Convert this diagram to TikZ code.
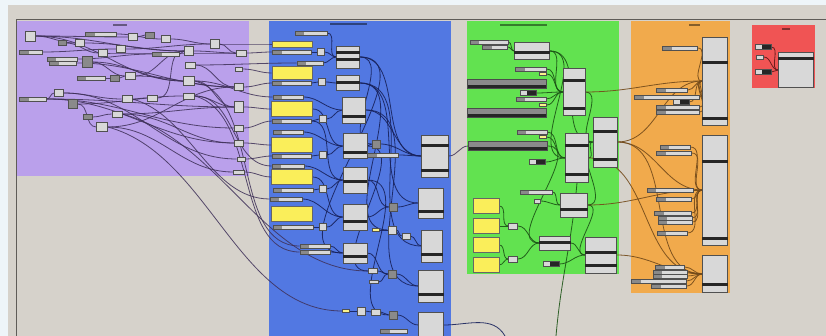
\documentclass[tikz,border=0pt]{standalone}
\usetikzlibrary{calc,positioning}
\definecolor{outer}{RGB}{238,245,249}
\definecolor{canvas}{RGB}{214,210,203}
\definecolor{frame}{RGB}{95,92,88}
\definecolor{grpP}{RGB}{186,160,235}
\definecolor{grpB}{RGB}{82,120,226}
\definecolor{grpG}{RGB}{98,226,80}
\definecolor{grpO}{RGB}{241,170,76}
\definecolor{grpR}{RGB}{240,84,84}
\definecolor{compfill}{RGB}{216,216,216}
\definecolor{compline}{RGB}{80,80,80}
\definecolor{compdark}{RGB}{138,138,138}
\definecolor{panelyel}{RGB}{250,238,90}
\definecolor{wirep}{RGB}{62,48,88}
\definecolor{wireb}{RGB}{24,34,92}
\definecolor{wireg}{RGB}{28,84,22}
\definecolor{wireo}{RGB}{115,74,26}
\definecolor{wirer}{RGB}{110,30,30}
\pgfdeclarelayer{grp}
\pgfdeclarelayer{wires}
\pgfsetlayers{grp,wires,main}

\begin{document}
\begin{tikzpicture}[x=1pt, y=-1pt]
  \tikzset{
    comp/.style={draw=compline, fill=compfill, line width=0.6pt, inner sep=0pt, rectangle},
    box/.style 2 args={comp, minimum width=#1, minimum height=#2},
    dbox/.style 2 args={box={#1}{#2}, fill=compdark},
    sld/.style={comp, minimum width=#1, minimum height=4,
                path picture={\fill[compdark] (path picture bounding box.south west)
                  rectangle ([xshift=9pt]path picture bounding box.north west);}},
    tgl/.style={comp, minimum width=16, minimum height=5,
                path picture={\fill[black!85] ([xshift=7pt]path picture bounding box.south west)
                  rectangle (path picture bounding box.north east);}},
    gbar/.style={draw=black!70, fill=compdark, line width=0.6pt, inner sep=0pt,
                 minimum width=79, minimum height=9,
                 path picture={\fill[black!85] (path picture bounding box.south west)
                   rectangle ([yshift=3pt]path picture bounding box.south east);}},
    panel/.style 2 args={draw=black!60, fill=panelyel, line width=0.6pt, inner sep=0pt,
                         minimum width=#1, minimum height=#2},
    tiny/.style={box={7}{3}, fill=panelyel!70},
    band/.style={fill=black!85},
    wp/.style={draw=wirep, line width=0.8pt, opacity=0.85},
    wb/.style={draw=wireb, line width=0.8pt, opacity=0.9},
    wg/.style={draw=wireg, line width=0.8pt, opacity=0.9},
    wo/.style={draw=wireo, line width=0.8pt, opacity=0.9},
    wr/.style={draw=wirer, line width=0.8pt}
  }
  \useasboundingbox (0,0) rectangle (826,336);

  \begin{pgfonlayer}{grp}
    \fill[outer] (0,0) rectangle (826,336);
    \fill[canvas] (8,5) rectangle (826,336);
    \draw[frame, line width=1pt] (16,336) -- (16,20) -- (826,20);
    \fill[grpP] (17,21) rectangle (249,176);
    \fill[grpB] (269,21) rectangle (451,340);
    \fill[grpG] (467,21) rectangle (619,274);
    \fill[grpO] (631,21) rectangle (730,293);
    \fill[grpR] (752,25) rectangle (815,88);
    \draw[grpP!55!black, line width=1.2pt] (113,25) -- (127,25);
    \draw[grpB!55!black, line width=1.2pt] (330,24) -- (367,24);
    \draw[grpG!55!black, line width=1.2pt] (500,25) -- (547,25);
    \draw[grpO!55!black, line width=1.2pt] (689,25) -- (700,25);
    \draw[grpR!55!black, line width=1.2pt] (782,29) -- (790,29);
  \end{pgfonlayer}

  % purple group
  \node[box={10}{10}] (p1) at (30,36) {};
  \node[sld=31] (p2) at (101,34) {};
  \node[box={9}{7}] (p3) at (133,37) {};
  \node[dbox={9}{6}] (p4) at (150,35) {};
  \node[box={9}{7}] (p5) at (166,39) {};
  \node[dbox={8}{5}] (p6) at (62,43) {};
  \node[box={9}{7}] (p7) at (80,43) {};
  \node[sld=23] (p8) at (31,52) {};
  \node[box={9}{7}] (p9) at (103,53) {};
  \node[box={9}{7}] (p10) at (121,49) {};
  \node[sld=30] (p11) at (62,59) {};
  \node[sld=27] (p12) at (63,63) {};
  \node[dbox={10}{11}] (p13) at (87,62) {};
  \node[sld=27] (p14) at (166,54) {};
  \node[box={9}{9}] (p15) at (189,51) {};
  \node[box={9}{9}] (p16) at (215,44) {};
  \node[box={10}{6}] (p17) at (241,53) {};
  \node[box={10}{6}] (p18) at (190,65) {};
  \node[box={7}{4}] (p19) at (239,69) {};
  \node[sld=28] (p20) at (91,78) {};
  \node[dbox={9}{6}] (p21) at (115,78) {};
  \node[box={10}{7}] (p22) at (130,76) {};
  \node[box={11}{9}] (p23) at (189,81) {};
  \node[box={9}{7}] (p24) at (239,87) {};
  \node[sld=27] (p25) at (33,99) {};
  \node[box={9}{7}] (p26) at (59,93) {};
  \node[dbox={9}{9}] (p27) at (73,104) {};
  \node[box={10}{7}] (p28) at (127,99) {};
  \node[box={10}{6}] (p29) at (152,98) {};
  \node[box={11}{6}] (p30) at (189,96) {};
  \node[box={9}{11}] (p31) at (239,107) {};
  \node[dbox={9}{5}] (p32) at (88,117) {};
  \node[box={10}{6}] (p33) at (117,114) {};
  \node[box={11}{9}] (p34) at (102,127) {};
  \node[box={9}{6}] (p35) at (239,128) {};
  \node[box={9}{6}] (p36) at (239,143) {};
  \node[box={8}{4}] (p37) at (241,159) {};
  \node[box={11}{4}] (p38) at (239,172) {};

  % blue group
  \node[sld=32] (b0) at (311,33) {};
  \node[panel={40}{6}] (y1) at (292,44) {};
  \node[sld=39] (b1) at (292,52) {};
  \node[box={7}{7}] (b2) at (321,52) {};
  \node[box={23}{22}] (s1) at (348,57) {};
  \node[sld=26] (b3) at (310,63) {};
  \node[panel={40}{13}] (y2) at (292,73) {};
  \node[sld=39] (b4) at (292,83) {};
  \node[box={7}{7}] (b5) at (322,82) {};
  \node[box={23}{15}] (s2) at (348,83) {};
  \node[sld=30] (b6) at (288,97) {};
  \node[panel={41}{15}] (y3) at (292,109) {};
  \node[sld=39] (b7) at (292,121) {};
  \node[box={7}{7}] (b8) at (323,119) {};
  \node[box={23}{26}] (s3) at (354,110) {};
  \node[sld=30] (b9) at (288,132) {};
  \node[panel={41}{15}] (y4) at (292,145) {};
  \node[sld=39] (b10) at (292,156) {};
  \node[box={7}{7}] (b11) at (323,155) {};
  \node[box={24}{25}] (s4) at (355,146) {};
  \node[dbox={8}{8}] (b12) at (376,144) {};
  \node[sld=31] (b13) at (383,155) {};
  \node[box={27}{42}] (s5) at (435,156) {};
  \node[sld=32] (b14) at (288,166) {};
  \node[panel={41}{15}] (y5) at (292,177) {};
  \node[sld=40] (b15) at (293,190) {};
  \node[box={7}{7}] (b16) at (323,189) {};
  \node[box={24}{26}] (s6) at (355,180) {};
  \node[sld=32] (b17) at (286,199) {};
  \node[panel={41}{15}] (y6) at (292,214) {};
  \node[sld=40] (b18) at (293,227) {};
  \node[box={7}{7}] (b19) at (323,227) {};
  \node[box={24}{26}] (s7) at (355,217) {};
  \node[dbox={8}{8}] (b20) at (393,207) {};
  \node[box={25}{30}] (s8) at (431,203) {};
  \node[tiny] (b21) at (376,230) {};
  \node[box={8}{8}] (b22) at (392,230) {};
  \node[box={8}{6}] (b23) at (406,236) {};
  \node[box={21}{32}] (s9) at (432,246) {};
  \node[sld=30] (b24) at (315,246) {};
  \node[sld=30] (b25) at (315,252) {};
  \node[box={24}{20}] (s10) at (355,253) {};
  \node[box={9}{5}] (b26) at (373,271) {};
  \node[box={9}{3}] (b27) at (374,282) {};
  \node[dbox={8}{8}] (b28) at (392,274) {};
  \node[box={25}{32}] (s11) at (431,286) {};
  \node[tiny] (b29) at (346,311) {};
  \node[box={8}{8}] (b30) at (361,311) {};
  \node[box={9}{6}] (b31) at (376,312) {};
  \node[dbox={8}{8}] (b32) at (393,315) {};
  \node[box={25}{26}] (s12) at (431,325) {};
  \node[sld=27] (b33) at (394,331) {};

  % green group
  \node[sld=38] (g1) at (489,42) {};
  \node[sld=25] (g2) at (495,47) {};
  \node[box={35}{17}] (gs1) at (532,51) {};
  \node[sld=31] (g3) at (531,69) {};
  \node[tiny] (g4) at (543,74) {};
  \node[box={22}{47}] (gs2) at (574,92) {};
  \node[gbar] (gl1) at (507,84) {};
  \node[tgl] (g5) at (528,93) {};
  \node[sld=30] (g6) at (531,99) {};
  \node[tiny] (g7) at (543,105) {};
  \node[gbar] (gl2) at (507,113) {};
  \node[box={24}{50}] (gs3) at (605,142) {};
  \node[sld=30] (g8) at (532,132) {};
  \node[tiny] (g9) at (543,137) {};
  \node[gbar] (gl3) at (508,146) {};
  \node[box={23}{49}] (gs4) at (577,158) {};
  \node[tgl] (g10) at (537,162) {};
  \node[sld=32] (g11) at (536,192) {};
  \node[box={6}{4}] (g12) at (537,201) {};
  \node[box={27}{24}] (gs5) at (574,205) {};
  \node[panel={26}{15}] (gy1) at (486,206) {};
  \node[panel={26}{15}] (gy2) at (486,226) {};
  \node[panel={26}{15}] (gy3) at (486,245) {};
  \node[panel={26}{15}] (gy4) at (486,265) {};
  \node[box={9}{6}] (g13) at (513,226) {};
  \node[box={9}{6}] (g14) at (513,259) {};
  \node[box={31}{14}] (gs6) at (555,243) {};
  \node[box={31}{36}] (gs7) at (601,255) {};
  \node[tgl] (g15) at (551,264) {};

  % orange group
  \node[sld=35] (o1) at (680,48) {};
  \node[box={25}{88}] (os1) at (715,81) {};
  \node[sld=31] (o2) at (672,90) {};
  \node[sld=65] (o3) at (667,97) {};
  \node[tgl] (o4) at (681,102) {};
  \node[sld=43] (o5) at (678,107) {};
  \node[sld=43] (o6) at (678,112) {};
  \node[box={25}{110}] (os2) at (715,190) {};
  \node[sld=30] (o7) at (675,147) {};
  \node[sld=35] (o8) at (674,153) {};
  \node[sld=46] (o9) at (670,190) {};
  \node[sld=35] (o10) at (674,199) {};
  \node[sld=37] (o11) at (673,213) {};
  \node[sld=34] (o12) at (675,218) {};
  \node[sld=34] (o13) at (675,222) {};
  \node[sld=30] (o14) at (672,233) {};
  \node[box={25}{37}] (os3) at (715,274) {};
  \node[sld=29] (o15) at (670,267) {};
  \node[sld=34] (o16) at (670,272) {};
  \node[sld=34] (o17) at (670,276) {};
  \node[sld=55] (o18) at (659,281) {};
  \node[sld=35] (o19) at (669,286) {};

  % red group
  \node[tgl] (r1) at (763,47) {};
  \node[box={7}{4}] (r2) at (760,57) {};
  \node[tgl] (r3) at (763,72) {};
  \node[box={35}{35}] (rs1) at (796,70) {};

  \foreach \n/\y in {s1/53, s1/60, s2/83, s3/117, s4/153, s5/146, s5/171, s6/182,
                     s7/222, s8/212, s9/255, s10/257, s11/294, gs1/53, gs2/81, gs2/109,
                     gs3/132, gs3/160, gs4/146, gs4/175, gs5/210, gs6/243, gs7/253,
                     gs7/266, os1/63, os1/119, os2/162, os2/239, os3/284, rs1/59}
    \fill[band] (\n.west |- 0,\y-1.5) rectangle (\n.east |- 0,\y+1.5);

  \coordinate (cG) at (556,336);
  \coordinate (cR) at (505,336);

  \begin{pgfonlayer}{wires}
    \foreach \a/\b in {p1/p3, p1/p7, p1/p23, p1/p15, p6/p9, p8/p10, p7/p15, p9/p17,
                       p5/p16, p11/p14, p13/p22, p14/p15, p15/p17, p16/p17, p20/p21,
                       p21/p22, p22/p15, p22/p24, p25/p26, p25/p31, p25/p35, p26/p28,
                       p27/p34, p28/p29, p29/p15, p32/p33, p33/p31, p33/p36, p34/p24,
                       p23/p31, p18/p24, p30/p31, p25/p36, p12/p24, p3/p4, p2/p5,
                       p13/p23, p27/p30, p26/p37, p34/p38, p10/p16}
      \draw[wp] (\a.east) to[out=0,in=180] (\b.west);
    \foreach \a/\b in {p17/b1, p19/y2, p24/b4, p31/y3, p35/b7, p36/y4, p37/b10,
                       p38/y5, p16/y1, p30/b14, p23/b6, p18/b3}
      \draw[wp] (\a.east) to[out=0,in=180] (\b.west);
    \foreach \a/\b in {p23/b24, p30/b25, p34/b29, p28/b17, p33/b26}
      \draw[wp] (\a.east) to[out=-15,in=180,looseness=0.9] (\b.west);

    \foreach \a/\b in {b1/b2, b4/b5, b7/b8, b10/b11, b15/b16, b18/b19, b2/s1, b5/s2,
                       b8/s3, b11/s4, b16/s6, b19/s7, s4/b12, b12/s5, s1/s5, s2/s8,
                       s3/s5, s6/b20, b20/s8, s7/b20, b21/b22, b22/b23, b23/s9,
                       b24/s10, b25/s10, s10/b28, b26/b28, b27/b28, b28/s11, b29/b30,
                       b30/b31, b31/b32, b32/s12, b13/s5, b0/s1, b3/s1, b6/s3, b9/s4,
                       b14/s6, b17/s7, s1/s10, s2/b22, s3/s11, s4/b26, s6/b32, s2/s9,
                       s1/b12, y3/s4, y5/s7, b7/s6}
      \draw[wb] (\a.east) to[out=0,in=180] (\b.west);
    \draw[wb] (s12.east) to[out=0,in=120] (cR);
    \draw[wp] (s5.east) to[out=0,in=180] (gl3.west);

    \foreach \a/\b in {gs1/gs2, g1/gs1, g2/gs1, g3/gs2, g4/gs2, g5/gs2, g6/gs2,
                       g7/gs2, gs2/gs3, g8/gs4, g9/gs4, g10/gs4, gs4/gs3, gs1/gs4,
                       g11/gs5, g12/gs5, gy1/g13, gy2/g13, gy3/g14, gy4/g14, g13/gs6,
                       g14/gs6, gs6/gs7, g15/gs7, gs5/gs7, gs5/gs3, gl3/gs6, gs1/gs3}
      \draw[wg] (\a.east) to[out=0,in=180] (\b.west);
    \draw[wg] (gs4.south) to[out=-95,in=85] (cG);

    \foreach \a/\b in {gs3/os1, gs3/os2, gs2/os1, gs5/os2, gs7/os3, gs4/os3, gs3/os3}
      \draw[wo] (\a.east) to[out=0,in=180] (\b.west);
    \foreach \a/\b in {o1/os1, o2/os1, o3/os1, o4/os1, o5/os1, o6/os1, o7/os2, o8/os2,
                       o9/os2, o10/os2, o11/os2, o12/os2, o13/os2, o14/os2, o15/os3,
                       o16/os3, o17/os3, o18/os3, o19/os3}
      \draw[wo] (\a.east) to[out=0,in=180] (\b.west);
    \foreach \a/\b in {r1/rs1, r2/rs1, r3/rs1}
      \draw[wr] (\a.east) to[out=0,in=180] (\b.west);
  \end{pgfonlayer}
\end{tikzpicture}
\end{document}
